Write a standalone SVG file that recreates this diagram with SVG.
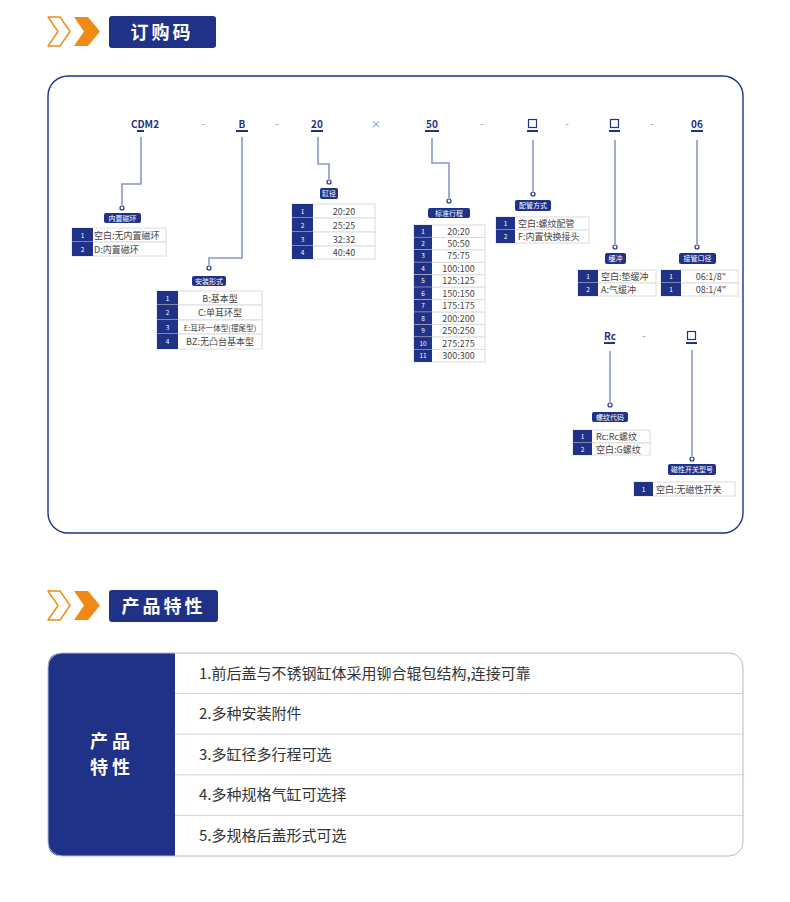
<svg xmlns="http://www.w3.org/2000/svg" width="790" height="902" viewBox="0 0 790 902">
<style>
text{font-family:"Noto Sans CJK SC","Noto Sans",sans-serif}
.code{font-size:10px;font-weight:bold;fill:#1f3288;text-anchor:middle}
.dash{font-size:10px;fill:#7f8ac4;text-anchor:middle}
.ul{stroke:#1f3288;stroke-width:2}
.ln{fill:none;stroke:#8b96cc;stroke-width:1.6}
.dot{fill:#fff;stroke:#1f3288;stroke-width:1.2}
.lb{fill:#1f3288;rx:2}
.lbt{font-size:7px;fill:#fff;text-anchor:middle}
.num{fill:#1f3288}
.cell{fill:#fff;stroke:#dcdcdc;stroke-width:1}
.nt{font-size:6.5px;fill:#fff;text-anchor:middle}
.ct{font-size:9px;fill:#444;text-anchor:middle}
.row{font-size:15px;fill:#333}
.sep{stroke:#cfd3de;stroke-width:1}
</style>
<rect width="790" height="902" fill="#fff"/>
<g id="header1">
<path d="M48,17 L60,17 L70,31.5 L60,46 L48,46 L58,31.5 Z" fill="#fff" stroke="#f08a14" stroke-width="1.4" stroke-linejoin="round"/>
<path d="M74,17 L88,17 L100,31.5 L88,46 L74,46 L84,31.5 Z" fill="#f08a14"/>
<rect x="109" y="16" width="107" height="32" rx="3" fill="#1f3288"/>
<text x="162" y="39" font-size="18" font-weight="bold" fill="#fff" text-anchor="middle" letter-spacing="3">订购码</text>
</g>
<rect x="48" y="76" width="695" height="457" rx="20" fill="none" stroke="#1f3288" stroke-width="1.4"/>
<g id="code-row">
<text class="code" x="145" y="128">CDM2</text><line class="ul" x1="137" y1="131" x2="144" y2="131"/>
<text class="dash" x="203" y="127">-</text>
<text class="code" x="242" y="128">B</text><line class="ul" x1="236" y1="131" x2="248" y2="131"/>
<text class="dash" x="277" y="127">-</text>
<text class="code" x="317" y="128">20</text><line class="ul" x1="311" y1="131" x2="323" y2="131"/>
<text class="dash" x="376" y="128">×</text>
<text class="code" x="432" y="128">50</text><line class="ul" x1="425" y1="131" x2="439" y2="131"/>
<text class="dash" x="482" y="127">-</text>
<rect x="528.5" y="119.5" width="8" height="8" fill="none" stroke="#1f3288" stroke-width="1.2"/><line class="ul" x1="527" y1="131" x2="538" y2="131"/>
<text class="dash" x="567" y="127">-</text>
<rect x="610.5" y="119.5" width="8" height="8" fill="none" stroke="#1f3288" stroke-width="1.2"/><line class="ul" x1="609" y1="131" x2="620" y2="131"/>
<text class="dash" x="652" y="127">-</text>
<text class="code" x="697" y="128">06</text><line class="ul" x1="691" y1="131" x2="703" y2="131"/>
<text class="code" x="610" y="340">Rc</text><line class="ul" x1="604" y1="343" x2="615" y2="343"/>
<text class="dash" x="644" y="339">-</text>
<rect x="687.5" y="331.5" width="8" height="8" fill="none" stroke="#1f3288" stroke-width="1.2"/><line class="ul" x1="686" y1="343" x2="697" y2="343"/>
</g>
<g id="connectors">
<path class="ln" d="M141,137 V184 H122 V205"/>
<path class="ln" d="M242,137 V258 H209 V265"/>
<path class="ln" d="M318,137 V164 H329 V179"/>
<path class="ln" d="M432,138 V163 H449 V198"/>
<path class="ln" d="M533,140 V191"/>
<path class="ln" d="M615,140 V244"/>
<path class="ln" d="M697,140 V244"/>
<path class="ln" d="M610,351 V402"/>
<path class="ln" d="M692,350 V456"/>
<circle class="dot" cx="122" cy="208" r="2"/>
<circle class="dot" cx="209" cy="268" r="2"/>
<circle class="dot" cx="329" cy="182" r="2"/>
<circle class="dot" cx="449" cy="201" r="2"/>
<circle class="dot" cx="533" cy="194" r="2"/>
<circle class="dot" cx="615" cy="247" r="2"/>
<circle class="dot" cx="697" cy="247" r="2"/>
<circle class="dot" cx="610" cy="405" r="2"/>
<circle class="dot" cx="692" cy="459" r="2"/>
</g>
<g id="node-magnet">
<rect class="lb" x="104" y="213" width="37" height="10"/><text class="lbt" x="122.5" y="220.5">内置磁环</text>
<rect class="cell" x="72" y="228" width="94" height="14"/><rect class="num" x="72" y="228" width="21" height="14"/><text class="nt" x="82.5" y="237.5">1</text><text class="ct" x="94" y="238.5" text-anchor="start" style="text-anchor:start">空白:无内置磁环</text>
<rect class="cell" x="72" y="242" width="94" height="14"/><rect class="num" x="72" y="242" width="21" height="14"/><text class="nt" x="82.5" y="251.5">2</text><text class="ct" x="94" y="252.5" style="text-anchor:start">D:内置磁环</text>
</g>
<g id="node-mount">
<rect class="lb" x="192" y="276" width="34" height="10"/><text class="lbt" x="209" y="283.5">安装形式</text>
<rect class="cell" x="157" y="291" width="105" height="14"/><rect class="num" x="157" y="291" width="21" height="14"/><text class="nt" x="167.5" y="300.5">1</text><text class="ct" x="220" y="301.5">B:基本型</text>
<rect class="cell" x="157" y="305" width="105" height="15"/><rect class="num" x="157" y="305" width="21" height="15"/><text class="nt" x="167.5" y="315">2</text><text class="ct" x="220" y="316">C:单耳环型</text>
<rect class="cell" x="157" y="320" width="105" height="14"/><rect class="num" x="157" y="320" width="21" height="14"/><text class="nt" x="167.5" y="329.5">3</text><text class="ct" x="220" y="330.5" style="font-size:7.6px">E:耳环一体型(摆尾型)</text>
<rect class="cell" x="157" y="334" width="105" height="15"/><rect class="num" x="157" y="334" width="21" height="15"/><text class="nt" x="167.5" y="344">4</text><text class="ct" x="220" y="345">BZ:无凸台基本型</text>
</g>
<g id="node-bore">
<rect class="lb" x="320" y="188" width="18" height="11"/><text class="lbt" x="329" y="196">缸径</text>
<rect class="cell" x="292" y="204" width="83" height="14"/><rect class="num" x="292" y="204" width="21" height="14"/><text class="nt" x="302.5" y="213.5">1</text><text class="ct" x="344" y="214.5">20:20</text>
<rect class="cell" x="292" y="218" width="83" height="14"/><rect class="num" x="292" y="218" width="21" height="14"/><text class="nt" x="302.5" y="227.5">2</text><text class="ct" x="344" y="228.5">25:25</text>
<rect class="cell" x="292" y="232" width="83" height="14"/><rect class="num" x="292" y="232" width="21" height="14"/><text class="nt" x="302.5" y="241.5">3</text><text class="ct" x="344" y="242.5">32:32</text>
<rect class="cell" x="292" y="246" width="83" height="13"/><rect class="num" x="292" y="246" width="21" height="13"/><text class="nt" x="302.5" y="255">4</text><text class="ct" x="344" y="256">40:40</text>
</g>
<g id="node-stroke">
<rect class="lb" x="428" y="208" width="42" height="10"/><text class="lbt" x="449" y="215.5">标准行程</text>
<g id="stroke-rows">
<rect class="cell" x="414" y="225" width="71" height="12.45"/><rect class="num" x="414" y="225" width="18" height="12.45"/><text class="nt" x="423" y="233.5">1</text><text class="ct" x="458.5" y="234.5">20:20</text>
<rect class="cell" x="414" y="237.45" width="71" height="12.45"/><rect class="num" x="414" y="237.45" width="18" height="12.45"/><text class="nt" x="423" y="246">2</text><text class="ct" x="458.5" y="247">50:50</text>
<rect class="cell" x="414" y="249.9" width="71" height="12.45"/><rect class="num" x="414" y="249.9" width="18" height="12.45"/><text class="nt" x="423" y="258.4">3</text><text class="ct" x="458.5" y="259.4">75:75</text>
<rect class="cell" x="414" y="262.35" width="71" height="12.45"/><rect class="num" x="414" y="262.35" width="18" height="12.45"/><text class="nt" x="423" y="270.9">4</text><text class="ct" x="458.5" y="271.9">100:100</text>
<rect class="cell" x="414" y="274.8" width="71" height="12.45"/><rect class="num" x="414" y="274.8" width="18" height="12.45"/><text class="nt" x="423" y="283.3">5</text><text class="ct" x="458.5" y="284.3">125:125</text>
<rect class="cell" x="414" y="287.25" width="71" height="12.45"/><rect class="num" x="414" y="287.25" width="18" height="12.45"/><text class="nt" x="423" y="295.8">6</text><text class="ct" x="458.5" y="296.8">150:150</text>
<rect class="cell" x="414" y="299.7" width="71" height="12.45"/><rect class="num" x="414" y="299.7" width="18" height="12.45"/><text class="nt" x="423" y="308.2">7</text><text class="ct" x="458.5" y="309.2">175:175</text>
<rect class="cell" x="414" y="312.15" width="71" height="12.45"/><rect class="num" x="414" y="312.15" width="18" height="12.45"/><text class="nt" x="423" y="320.7">8</text><text class="ct" x="458.5" y="321.7">200:200</text>
<rect class="cell" x="414" y="324.6" width="71" height="12.45"/><rect class="num" x="414" y="324.6" width="18" height="12.45"/><text class="nt" x="423" y="333.1">9</text><text class="ct" x="458.5" y="334.1">250:250</text>
<rect class="cell" x="414" y="337.05" width="71" height="12.45"/><rect class="num" x="414" y="337.05" width="18" height="12.45"/><text class="nt" x="423" y="345.6">10</text><text class="ct" x="458.5" y="346.6">275:275</text>
<rect class="cell" x="414" y="349.5" width="71" height="12.45"/><rect class="num" x="414" y="349.5" width="18" height="12.45"/><text class="nt" x="423" y="358">11</text><text class="ct" x="458.5" y="359">300:300</text>
</g>
</g>
<g id="node-piping">
<rect class="lb" x="515" y="200" width="36" height="11"/><text class="lbt" x="533" y="208">配管方式</text>
<rect class="cell" x="496" y="217" width="93" height="13"/><rect class="num" x="496" y="217" width="19" height="13"/><text class="nt" x="505.5" y="226">1</text><text class="ct" x="518" y="227" style="text-anchor:start">空白:螺纹配管</text>
<rect class="cell" x="496" y="230" width="93" height="13"/><rect class="num" x="496" y="230" width="19" height="13"/><text class="nt" x="505.5" y="239">2</text><text class="ct" x="518" y="240" style="text-anchor:start">F:内置快换接头</text>
</g>
<g id="node-cushion">
<rect class="lb" x="605" y="253" width="21" height="11"/><text class="lbt" x="615.5" y="261">缓冲</text>
<rect class="cell" x="578" y="270" width="78" height="13"/><rect class="num" x="578" y="270" width="20" height="13"/><text class="nt" x="588" y="279">1</text><text class="ct" x="601" y="280" style="text-anchor:start">空白:垫缓冲</text>
<rect class="cell" x="578" y="283" width="78" height="13"/><rect class="num" x="578" y="283" width="20" height="13"/><text class="nt" x="588" y="292">2</text><text class="ct" x="601" y="293" style="text-anchor:start">A:气缓冲</text>
</g>
<g id="node-port">
<rect class="lb" x="679" y="253" width="37" height="11"/><text class="lbt" x="697.5" y="261">接管口径</text>
<rect class="cell" x="661" y="270" width="77" height="13"/><rect class="num" x="661" y="270" width="20" height="13"/><text class="nt" x="671" y="279">1</text><text class="ct" x="711" y="280">06:1/8"</text>
<rect class="cell" x="661" y="283" width="77" height="13"/><rect class="num" x="661" y="283" width="20" height="13"/><text class="nt" x="671" y="292">1</text><text class="ct" x="711" y="293">08:1/4"</text>
</g>
<g id="node-thread">
<rect class="lb" x="592" y="412" width="36" height="10"/><text class="lbt" x="610" y="419.5">螺纹代码</text>
<rect class="cell" x="573" y="430" width="77" height="13"/><rect class="num" x="573" y="430" width="19" height="13"/><text class="nt" x="582.5" y="439">1</text><text class="ct" x="596" y="440" style="text-anchor:start">Rc:Rc螺纹</text>
<rect class="cell" x="573" y="443" width="77" height="12"/><rect class="num" x="573" y="443" width="19" height="12"/><text class="nt" x="582.5" y="451.5">2</text><text class="ct" x="596" y="452.5" style="text-anchor:start">空白:G螺纹</text>
</g>
<g id="node-switch">
<rect class="lb" x="668" y="464" width="48" height="11"/><text class="lbt" x="692" y="472">磁性开关型号</text>
<rect class="cell" x="634" y="482" width="101" height="14"/><rect class="num" x="634" y="482" width="19" height="14"/><text class="nt" x="643.5" y="491.5">1</text><text class="ct" x="656" y="492.5" style="text-anchor:start">空白:无磁性开关</text>
</g>
<g id="header2">
<path d="M48,591 L60,591 L70,605.5 L60,620 L48,620 L58,605.5 Z" fill="#fff" stroke="#f08a14" stroke-width="1.4" stroke-linejoin="round"/>
<path d="M74,591 L88,591 L100,605.5 L88,620 L74,620 L84,605.5 Z" fill="#f08a14"/>
<rect x="109" y="590" width="109" height="32" rx="3" fill="#1f3288"/>
<text x="163.5" y="613" font-size="18" font-weight="bold" fill="#fff" text-anchor="middle" letter-spacing="3">产品特性</text>
</g>
<g id="features">
<path d="M62,653 H175 V856 H62 Q48,856 48,842 V667 Q48,653 62,653 Z" fill="#1f3288"/>
<text x="112" y="748" font-size="18" font-weight="bold" fill="#fff" text-anchor="middle" letter-spacing="4">产品</text>
<text x="112" y="774" font-size="18" font-weight="bold" fill="#fff" text-anchor="middle" letter-spacing="4">特性</text>
<line class="sep" x1="175" y1="693.6" x2="743" y2="693.6"/>
<line class="sep" x1="175" y1="734.2" x2="743" y2="734.2"/>
<line class="sep" x1="175" y1="774.8" x2="743" y2="774.8"/>
<line class="sep" x1="175" y1="815.4" x2="743" y2="815.4"/>
<rect x="48" y="653" width="695" height="203" rx="14" fill="none" stroke="#b4bad0" stroke-width="1"/>
<text class="row" x="199" y="679">1.前后盖与不锈钢缸体采用铆合辊包结构,连接可靠</text>
<text class="row" x="199" y="719">2.多种安装附件</text>
<text class="row" x="199" y="760">3.多缸径多行程可选</text>
<text class="row" x="199" y="800">4.多种规格气缸可选择</text>
<text class="row" x="199" y="841">5.多规格后盖形式可选</text>
</g>
</svg>
